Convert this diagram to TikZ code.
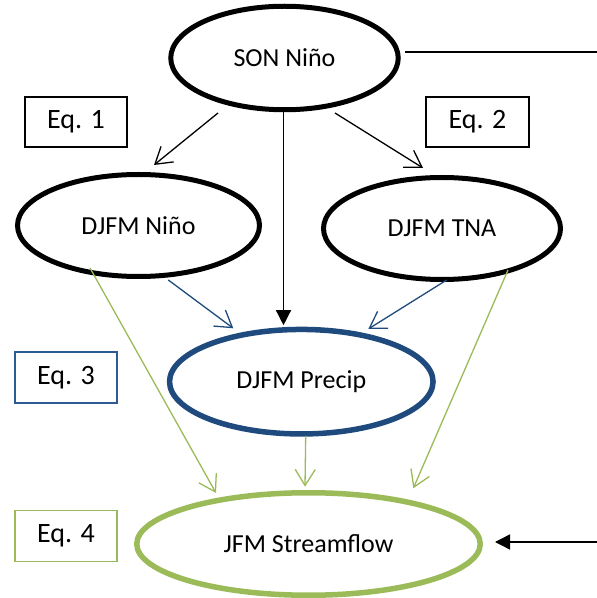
\documentclass[tikz,border=0pt]{standalone}
\usepackage{fontspec}
\setmainfont{Carlito}
\usetikzlibrary{shapes.geometric,arrows.meta,calc}
\definecolor{dblue}{HTML}{1F4A7E}
\definecolor{bblue}{HTML}{2E5A93}
\definecolor{lgreen}{HTML}{9BBB59}
\tikzset{
  ell/.style={ellipse, draw, inner sep=0pt, font=\fontsize{26}{30}\selectfont},
  eqbox/.style={rectangle, draw, line width=1.6pt, inner sep=0pt, font=\fontsize{28}{32}\selectfont},
  openarr/.style={line width=1.3pt, -{Straight Barb[length=16pt,width=20pt,line width=1.3pt]}},
  fillarr/.style={line width=1.4pt, -{Triangle[length=15pt,width=15pt]}},
}
\begin{document}
\begin{tikzpicture}[x=1pt,y=1pt]
\useasboundingbox (0,0) rectangle (597,598);
% nodes
\node[ell, line width=5pt, minimum width=227.5pt, minimum height=103.5pt] (son) at (284.5,540) {SON Niño};
\node[ell, line width=5pt, minimum width=242pt, minimum height=102pt] (nino) at (138.5,372.5) {DJFM Niño};
\node[ell, line width=5pt, minimum width=237pt, minimum height=102pt] (tna) at (442,369.5) {DJFM TNA};
\node[ell, draw=dblue, line width=5.5pt, minimum width=263.5pt, minimum height=104.5pt] (precip) at (301.3,216.3) {DJFM Precip};
\node[ell, draw=lgreen, line width=5.5pt, minimum width=343.5pt, minimum height=102.5pt] (stream) at (308.5,54) {JFM Streamflow};
\node[eqbox, minimum width=102pt, minimum height=50pt] (eq1) at (76,476) {Eq. 1};
\node[eqbox, minimum width=103pt, minimum height=50pt] (eq2) at (477.5,476) {Eq. 2};
\node[eqbox, draw=bblue, minimum width=102pt, minimum height=51pt] (eq3) at (66,220.5) {Eq. 3};
\node[eqbox, draw=lgreen, minimum width=102pt, minimum height=51pt] (eq4) at (66,62) {Eq. 4};
\coordinate (r1) at (597,546);
\coordinate (r2) at (597,56);
% connectors
\draw[openarr] ($(son.center)+(-66.5,-55)$) -- ($(nino.center)+(15.5,60.5)$);
\draw[openarr] ($(son.center)+(50.5,-55)$) -- ($(tna.center)+(-19,60.5)$);
\draw[fillarr] ($(son.south)+(-1,0)$) -- ($(son.south |- precip.north)+(-1,1.5)$);
\draw[openarr, dblue] ($(nino.center)+(29.8,-54.5)$) -- ($(precip.center)+(-68,53.4)$);
\draw[openarr, dblue] ($(tna.center)+(4.7,-51.5)$) -- ($(precip.center)+(67,52.7)$);
\draw[openarr, lgreen] ($(nino.center)+(-48.5,-42.5)$) -- ($(stream.center)+(-92.5,51)$);
\draw[openarr, lgreen] ($(precip.center)+(4.4,-54.3)$) -- ($(stream.center)+(-3.5,57.3)$);
\draw[openarr, lgreen] ($(tna.center)+(66,-41.5)$) -- ($(stream.center)+(104.8,55.7)$);
\draw[line width=1.4pt] ($(son.center)+(120.5,6)$) -- (r1);
\draw[fillarr] (r2) -- ($(stream.center)+(186.5,2)$);
\end{tikzpicture}
\end{document}
